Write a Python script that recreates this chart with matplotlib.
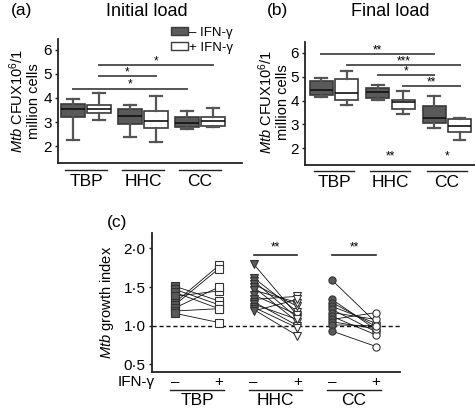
import matplotlib
matplotlib.use('Agg')
import matplotlib.pyplot as plt
import matplotlib.transforms as mtransforms
from matplotlib.patches import Patch

plt.rcParams['font.family'] = ['Liberation Sans', 'DejaVu Sans']
plt.rcParams['mathtext.fontset'] = 'custom'
plt.rcParams['mathtext.rm'] = 'Liberation Sans'
plt.rcParams['mathtext.it'] = 'Liberation Sans:italic'

groups = ['TBP', 'HHC', 'CC']
conditions = ['– IFN-γ', '+ IFN-γ']

# five-number summaries: [whisker low, q1, median, q3, whisker high]
initial_minus = [[2.24, 3.19, 3.54, 3.75, 3.96],
                 [2.37, 2.90, 3.27, 3.56, 3.70],
                 [2.70, 2.80, 2.97, 3.23, 3.47]]
initial_plus = [[3.10, 3.37, 3.54, 3.70, 4.20],
                [2.17, 2.74, 3.06, 3.48, 4.10],
                [2.80, 2.85, 3.04, 3.20, 3.60]]
final_minus = [[4.13, 4.25, 4.43, 4.80, 4.94],
               [4.04, 4.12, 4.36, 4.53, 4.64],
               [2.86, 3.04, 3.28, 3.76, 4.19]]
final_plus = [[3.80, 4.01, 4.33, 4.88, 5.22],
              [3.43, 3.64, 3.94, 4.04, 4.39],
              [2.35, 2.67, 2.94, 3.21, 3.28]]

# significance bars: (group a, cond a, group b, cond b, y, label)
initial_sig = [(0, 1, 2, 1, 5.36, '*'),
               (0, 1, 1, 1, 4.90, '*'),
               (0, 0, 2, 0, 4.38, '*')]
final_sig = [(0, 0, 2, 0, 5.93, '**'),
             (0, 1, 2, 1, 5.47, '***'),
             (1, 0, 2, 0, 5.06, '*'),
             (1, 1, 2, 1, 4.60, '**')]
final_bottom_sig = [(1, 1.55, '**'), (2, 1.55, '*')]

# growth index pairs (− IFN-γ, + IFN-γ)
tbp_minus = [1.51, 1.47, 1.43, 1.38, 1.30, 1.27, 1.23, 1.19, 1.16]
tbp_plus = [1.32, 1.27, 1.22, 1.45, 1.78, 1.74, 1.50, 1.22, 1.04]
hhc_minus = [1.80, 1.62, 1.58, 1.54, 1.50, 1.46, 1.40, 1.34, 1.31, 1.28, 1.24, 1.21, 1.19]
hhc_plus = [1.13, 1.18, 1.10, 1.25, 1.05, 1.30, 1.14, 1.38, 1.00, 1.08, 0.97, 0.87, 1.34]
cc_minus = [1.59, 1.34, 1.30, 1.25, 1.21, 1.17, 1.12, 1.08, 1.05, 1.01, 0.93]
cc_plus = [1.04, 0.95, 0.99, 1.03, 0.92, 1.08, 0.88, 1.17, 0.96, 1.00, 0.73]
growth_sig = [(1, 1.92, '**'), (2, 1.92, '**')]

DARK = '#5a5a5a'
EDGE = '#3a3a3a'
W, H = 475, 411

fig = plt.figure(figsize=(4.75, 4.11), dpi=100)


def axes_px(l, t, r, b):
    return fig.add_axes([l / W, 1 - b / H, (r - l) / W, (b - t) / H])


def style_axes(ax):
    for s in ['top', 'right']:
        ax.spines[s].set_visible(False)
    for s in ['left', 'bottom']:
        ax.spines[s].set_color('#222222')
        ax.spines[s].set_linewidth(1.3)
    ax.set_xticks([])
    ax.tick_params(axis='y', direction='out', length=2.5, width=1,
                   labelsize=11, pad=2, color='#222222')


def box_panel(ax, minus, plus, off, width, sigs, xlim, ul_half, ul_y, lab_y):
    stats, pos, fills = [], [], []
    for g in range(3):
        for c, data in enumerate([minus, plus]):
            wl, q1, md, q3, wh = data[g]
            stats.append(dict(whislo=wl, q1=q1, med=md, q3=q3, whishi=wh, fliers=[]))
            pos.append(g + 1 + (off if c else -off))
            fills.append('white' if c else DARK)
    bp = ax.bxp(stats, positions=pos, widths=width, patch_artist=True,
                showfliers=False, capwidths=width * 0.5,
                boxprops=dict(edgecolor=EDGE, linewidth=1.2),
                medianprops=dict(color='#111111', linewidth=1.2),
                whiskerprops=dict(color='#555555', linewidth=1.6),
                capprops=dict(color='#555555', linewidth=1.6))
    for b, f in zip(bp['boxes'], fills):
        b.set_facecolor(f)
    for ga, ca, gb, cb, y, lab in sigs:
        xa = ga + 1 + (off if ca else -off)
        xb = gb + 1 + (off if cb else -off)
        ax.plot([xa, xb], [y, y], color='#555555', lw=1.4)
        ax.text((xa + xb) / 2, y + 0.04, lab, ha='center', va='baseline', fontsize=8.5)
    ax.set_xlim(*xlim)
    ax.set_ylim(1.3, 6.45)
    ax.set_yticks([2, 3, 4, 5, 6])
    style_axes(ax)
    tr = mtransforms.blended_transform_factory(ax.transData, ax.transAxes)
    for g, name in enumerate(groups):
        ax.plot([g + 1 - ul_half, g + 1 + ul_half], [ul_y, ul_y], transform=tr,
                clip_on=False, color='#222222', lw=1)
        ax.text(g + 1, lab_y, name, transform=tr, ha='center', va='center', fontsize=12.5)


ylab = '$\\mathit{Mtb}$ CFUX10$^{6}$/1\nmillion cells'

# Panel a
ax_a = axes_px(58, 39, 242, 163)
box_panel(ax_a, initial_minus, initial_plus, 0.228, 0.42, initial_sig,
          (0.509, 3.737), 0.37, -0.056, -0.152)
fig.text(24 / W, 1 - 101 / H, ylab, rotation=90, ha='center', va='center',
         fontsize=10.5, linespacing=1.1)
fig.text(22 / W, 1 - 11 / H, '(a)', ha='center', va='center', fontsize=12.5)
fig.text(147 / W, 1 - 11 / H, 'Initial load', ha='center', va='center', fontsize=13)
handles = [Patch(facecolor=DARK, edgecolor=EDGE, linewidth=1),
           Patch(facecolor='white', edgecolor=EDGE, linewidth=1)]
ax_a.legend(handles, conditions, loc='upper left', frameon=False, fontsize=9.5,
            bbox_to_anchor=(171 / W, 1 - 27 / H), bbox_transform=fig.transFigure,
            borderpad=0, borderaxespad=0, handlelength=1.3, handleheight=0.55,
            handletextpad=0.1, labelspacing=0.2)

# Panel b
ax_b = axes_px(305, 42, 475, 165)
box_panel(ax_b, final_minus, final_plus, 0.225, 0.41, final_sig,
          (0.487, 3.496), 0.354, -0.046, -0.14)
for g, y, lab in final_bottom_sig:
    ax_b.text(g + 1, y, lab, ha='center', va='baseline', fontsize=8.5)
fig.text(273 / W, 1 - 102 / H, ylab, rotation=90, ha='center', va='center',
         fontsize=10.5, linespacing=1.1)
fig.text(277 / W, 1 - 11 / H, '(b)', ha='center', va='center', fontsize=12.5)
fig.text(390 / W, 1 - 11 / H, 'Final load', ha='center', va='center', fontsize=13)

# Panel c
ax_c = axes_px(152, 233, 400, 372)
off_c = 0.28
pairs = [(tbp_minus, tbp_plus, 's'), (hhc_minus, hhc_plus, 'v'), (cc_minus, cc_plus, 'o')]
for g, (mn, pl, mk) in enumerate(pairs):
    xm, xp = g + 1 - off_c, g + 1 + off_c
    for a, b in zip(mn, pl):
        ax_c.plot([xm, xp], [a, b], color='#111111', lw=0.6, zorder=2)
    ax_c.plot([xm] * len(mn), mn, linestyle='none', marker=mk, markersize=5.2,
              markerfacecolor=DARK, markeredgecolor='#333333', markeredgewidth=0.8, zorder=3)
    ax_c.plot([xp] * len(pl), pl, linestyle='none', marker=mk, markersize=5.2,
              markerfacecolor='white', markeredgecolor='#333333', markeredgewidth=0.8, zorder=3)
ax_c.axhline(1.0, color='#111111', lw=1, linestyle=(0, (3, 2)), zorder=1)
for g, y, lab in growth_sig:
    ax_c.plot([g + 1 - off_c, g + 1 + off_c], [y, y], color='#111111', lw=1.1)
    ax_c.text(g + 1, y + 0.05, lab, ha='center', va='baseline', fontsize=8.5)
ax_c.set_xlim(0.427, 3.586)
ax_c.set_ylim(0.4, 2.2)
ax_c.set_yticks([0.5, 1.0, 1.5, 2.0])
ax_c.set_yticklabels(['0·5', '1·0', '1·5', '2·0'])
style_axes(ax_c)
tr = mtransforms.blended_transform_factory(ax_c.transData, ax_c.transAxes)
for g, name in enumerate(groups):
    ax_c.text(g + 1 - off_c, -0.07, '–', transform=tr, ha='center', va='center', fontsize=11)
    ax_c.text(g + 1 + off_c, -0.07, '+', transform=tr, ha='center', va='center', fontsize=11)
    ax_c.plot([g + 1 - 0.34, g + 1 + 0.34], [-0.13, -0.13], transform=tr,
              clip_on=False, color='#222222', lw=1)
    ax_c.text(g + 1, -0.205, name, transform=tr, ha='center', va='center', fontsize=12.5)
ax_c.text(0.012, -0.07, 'IFN-γ', transform=ax_c.transAxes, ha='right', va='center', fontsize=11)
fig.text(107 / W, 1 - 302 / H, '$\\mathit{Mtb}$ growth index', rotation=90,
         ha='center', va='center', fontsize=10.5)
fig.text(117 / W, 1 - 222 / H, '(c)', ha='center', va='center', fontsize=12.5)

fig.savefig('out.png', dpi=100)
